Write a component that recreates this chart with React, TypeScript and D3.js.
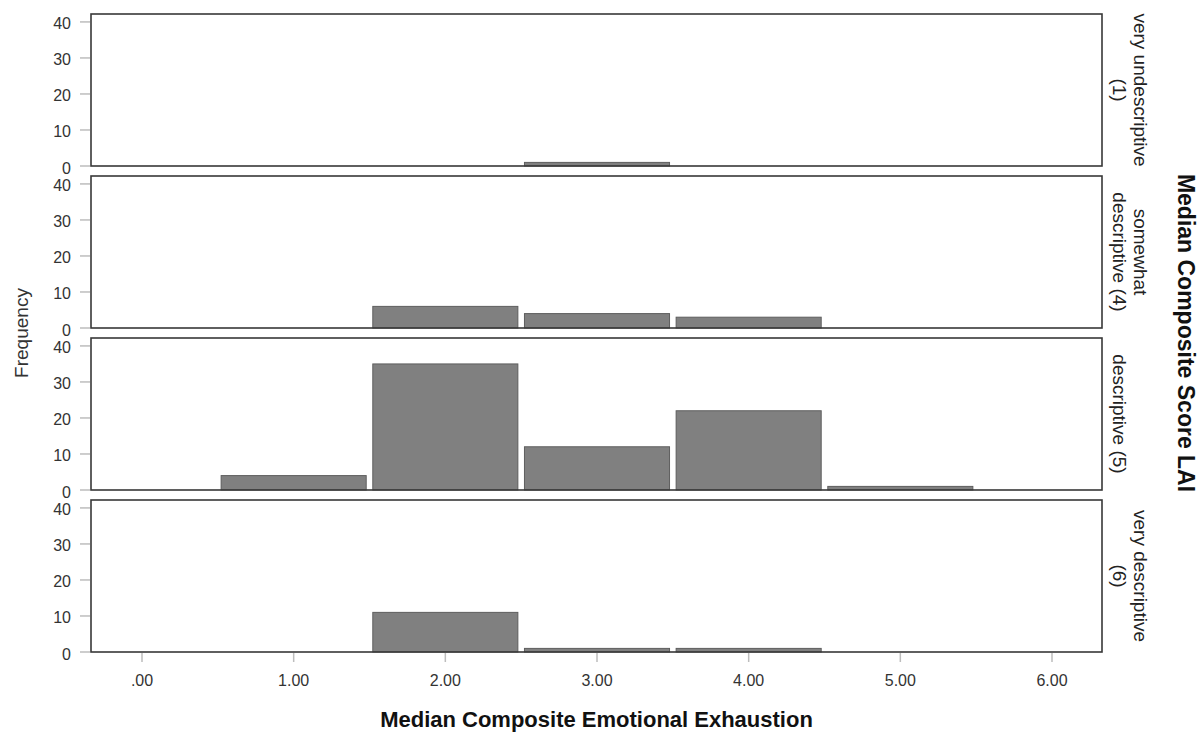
import React from 'react';
import * as d3 from 'd3';

// LAI groups (facet rows), label split into lines as in the original
const groupLabels = [
  ['very undescriptive', '(1)'],
  ['somewhat', 'descriptive (4)'],
  ['descriptive (5)'],
  ['very descriptive', '(6)'],
];

// histogram bin centres (median composite emotional exhaustion)
const binCentres = [1, 2, 3, 4, 5];

// frequency per bin for each group
const countsVeryUndescriptive = [0, 0, 1, 0, 0];
const countsSomewhat = [0, 6, 4, 3, 0];
const countsDescriptive = [4, 35, 12, 22, 1];
const countsVeryDescriptive = [0, 11, 1, 1, 0];
const groupCounts = [countsVeryUndescriptive, countsSomewhat, countsDescriptive, countsVeryDescriptive];

const yTicks = [0, 10, 20, 30, 40];
const xTicks = [0, 1, 2, 3, 4, 5, 6];

const W = 1202;
const H = 734;
const left = 91;
const right = 1102;
const firstTop = 14;
const panelH = 152;
const panelStep = 162;
const font = "'Liberation Sans', Arial, sans-serif";

const fmtX = (v: number) => (v === 0 ? '.00' : d3.format('.2f')(v));

const App = () => {
  const x = d3.scaleLinear().domain([0, 6]).range([142, 1052]);
  const gap = 3.3;
  const lastBottom = firstTop + 3 * panelStep + panelH;

  return (
    <svg width={W} height={H} style={{ position: 'absolute', left: 0, top: 0, background: '#fff' }} fontFamily={font}>
      {groupCounts.map((counts, i) => {
        const top = firstTop + i * panelStep;
        const bottom = top + panelH;
        const y = d3.scaleLinear().domain([0, 42.2]).range([bottom, top]);
        const lines = groupLabels[i];
        return (
          <g key={i}>
            {yTicks.map(t => (
              <g key={t}>
                <line x1={80} x2={90} y1={y(t)} y2={y(t)} stroke="#bdbdbd" strokeWidth={1.5} />
                <text x={71} y={y(t) + 2} textAnchor="end" dominantBaseline="central" fontSize={16} fill="#333">
                  {t}
                </text>
              </g>
            ))}
            {counts.map((c, j) =>
              c > 0 ? (
                <rect
                  key={j}
                  x={x(binCentres[j] - 0.5) + gap}
                  y={y(c)}
                  width={x(binCentres[j] + 0.5) - x(binCentres[j] - 0.5) - 2 * gap}
                  height={y(0) - y(c)}
                  fill="#808080"
                  stroke="#5e5e5e"
                  strokeWidth={1}
                />
              ) : null
            )}
            <rect x={left} y={top} width={right - left} height={panelH} fill="none" stroke="#383838" strokeWidth={1.6} />
            <g transform={`translate(1134,${(top + bottom) / 2}) rotate(90)`}>
              {lines.map((ln, k) => (
                <text
                  key={k}
                  x={0}
                  y={lines.length === 1 ? 21 : k * 21}
                  textAnchor="middle"
                  fontSize={19}
                  fill="#222"
                >
                  {ln}
                </text>
              ))}
            </g>
          </g>
        );
      })}

      {xTicks.map(t => (
        <g key={t}>
          <line x1={x(t)} x2={x(t)} y1={lastBottom + 1} y2={lastBottom + 10} stroke="#bdbdbd" strokeWidth={1.5} />
          <text x={x(t)} y={686} textAnchor="middle" fontSize={16} fill="#333">
            {fmtX(t)}
          </text>
        </g>
      ))}

      <text transform={`translate(28,${(firstTop + lastBottom) / 2}) rotate(-90)`} textAnchor="middle" fontSize={19} fill="#333">
        Frequency
      </text>
      <text x={(left + right) / 2} y={727} textAnchor="middle" fontSize={22} fontWeight="bold" fill="#111">
        Median Composite Emotional Exhaustion
      </text>
      <text transform={`translate(1178,${(firstTop + lastBottom) / 2}) rotate(90)`} textAnchor="middle" fontSize={23} fontWeight="bold" fill="#111">
        Median Composite Score LAI
      </text>
    </svg>
  );
};

export default App;
